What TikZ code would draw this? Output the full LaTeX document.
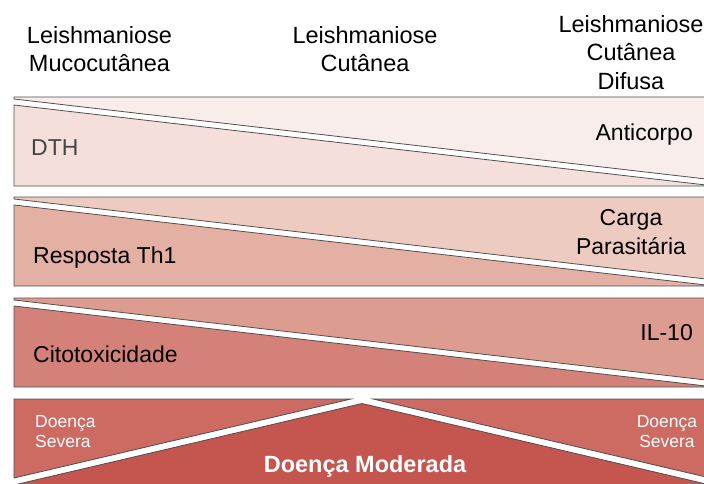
\documentclass[tikz,border=0pt]{standalone}
\usepackage{fontspec}
\setmainfont{Liberation Sans}
\usepackage{xcolor}
\usepackage{tikz}
\usetikzlibrary{positioning}
\definecolor{DthUp}{HTML}{F8EDEB}
\definecolor{DthLow}{HTML}{F4DFDA}
\definecolor{ThUp}{HTML}{EECBC1}
\definecolor{ThLow}{HTML}{E5B0A4}
\definecolor{CitoUp}{HTML}{DD9C90}
\definecolor{CitoLow}{HTML}{D4817A}
\definecolor{SevOuter}{HTML}{CD6A62}
\definecolor{ModInner}{HTML}{C4554F}
\definecolor{Edge}{HTML}{505050}
\definecolor{DthText}{HTML}{454545}

\begin{document}
\begin{tikzpicture}[x=1pt,y=-1pt,
  every node/.style={inner sep=0pt,text=black},
  head/.style={font=\fontsize{23.5}{28.5}\selectfont,align=center,anchor=north},
  lbl/.style={font=\fontsize{23}{29}\selectfont},
  small/.style={font=\fontsize{17.5}{20.5}\selectfont,text=white,align=center},
  piece/.style={draw=Edge,line width=0.8pt}]
\useasboundingbox (0,0) rectangle (704,484);
\clip (0,0) rectangle (704,484);
% headers
\node[head] (mucoHead) at (99.5,26) {Leishmaniose\\Mucocutânea};
\node[head] (cutHead) at (365,26) {Leishmaniose\\Cutânea};
\node[head] (difHead) at (631,15) {Leishmaniose\\Cutânea\\Difusa};
% DTH / Anticorpo
\filldraw[piece,fill=DthUp] (14,97) -- (706,97) -- (706,179) -- (14,99) -- cycle;
\filldraw[piece,fill=DthLow] (14,105) -- (706,185) -- (706,186) -- (14,186) -- cycle;
\node[lbl,anchor=base west,text=DthText] (dth) at (31,156) {DTH};
\node[lbl,anchor=base east] (anti) at (693,141) {Anticorpo};
% Th1 / carga parasitaria
\filldraw[piece,fill=ThUp] (14,197) -- (706,197) -- (706,279) -- (14,199) -- cycle;
\filldraw[piece,fill=ThLow] (14,205) -- (706,285) -- (706,286) -- (14,286) -- cycle;
\node[lbl,anchor=base west] (th1) at (33,263) {Resposta Th1};
\node[lbl,align=center,anchor=north] (carga) at (631,209) {Carga\\Parasitária};
% citotoxicidade / IL-10
\filldraw[piece,fill=CitoUp] (14,298) -- (706,298) -- (706,380) -- (14,300) -- cycle;
\filldraw[piece,fill=CitoLow] (14,306) -- (706,386) -- (706,387) -- (14,387) -- cycle;
\node[lbl,anchor=base west] (cito) at (33,362) {Citotoxicidade};
\node[lbl,anchor=base east] (il10) at (693,340) {IL-10};
% doenca
\filldraw[piece,fill=SevOuter] (14,399) -- (351,399) -- (14,478) -- cycle;
\filldraw[piece,fill=SevOuter] (373,399) -- (706,399) -- (706,477) -- cycle;
\filldraw[piece,fill=ModInner] (362,403.5) -- (706,484) -- (706,490) -- (14,490) -- (14,485) -- cycle;
\node[small,anchor=north west,align=left] (sevLeft) at (35,415) {Doença\\Severa};
\node[small,anchor=north] (sevRight) at (667,415) {Doença\\Severa};
\node[font=\fontsize{23.5}{28}\selectfont\bfseries,text=white,anchor=base] (mod) at (365,472) {Doença Moderada};
\end{tikzpicture}
\end{document}
